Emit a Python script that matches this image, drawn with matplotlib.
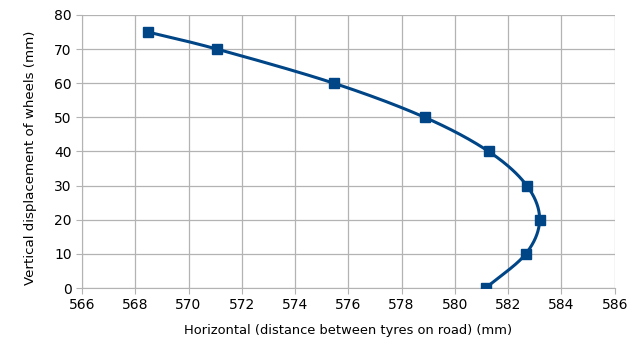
import numpy as np
import matplotlib
matplotlib.use("Agg")
import matplotlib.pyplot as plt

#-------------------------------------------------------------------------------
# values
horizontal = [568.48, 571.07, 575.46, 578.87, 581.27, 582.70, 583.18, 582.66, 581.16]
vertical = [75, 70, 60, 50, 40, 30, 20, 10, 0]

x_ticks = list(range(566, 587, 2))
y_ticks = list(range(0, 81, 10))

#-------------------------------------------------------------------------------

def catmull_rom(xs, ys, n=30):
    # smooth curve through the points, like the spreadsheet's smoothed line
    p = np.column_stack([xs, ys]).astype(float)
    p = np.vstack([2 * p[0] - p[1], p, 2 * p[-1] - p[-2]])
    out = []
    for i in range(1, len(p) - 2):
        p0, p1, p2, p3 = p[i - 1], p[i], p[i + 1], p[i + 2]
        for t in np.linspace(0, 1, n, endpoint=False):
            t2 = t * t
            t3 = t2 * t
            pt = 0.5 * ((2 * p1) + (-p0 + p2) * t
                        + (2 * p0 - 5 * p1 + 4 * p2 - p3) * t2
                        + (-p0 + 3 * p1 - 3 * p2 + p3) * t3)
            out.append(pt)
    out.append(p[-2])
    out = np.array(out)
    return out[:, 0], out[:, 1]

#-------------------------------------------------------------------------------

color = "#004586"

fig = plt.figure(figsize=(6.43, 3.62), dpi=100)
ax = fig.add_axes([0.1275, 0.2044, 0.8285, 0.7542])

sx, sy = catmull_rom(horizontal, vertical)
ax.plot(sx, sy, color=color, linewidth=2.2, zorder=3)
ax.plot(horizontal, vertical, linestyle="none", marker="s", markersize=7.5,
        color=color, zorder=4)

ax.set_xlim(566, 586)
ax.set_ylim(0, 80)
ax.set_xticks(x_ticks)
ax.set_yticks(y_ticks)
ax.grid(True, color="#b3b3b3", linewidth=0.9)
ax.set_axisbelow(True)

for s in ["top", "right"]:
    ax.spines[s].set_visible(False)
for s in ["left", "bottom"]:
    ax.spines[s].set_color("#b3b3b3")
ax.tick_params(colors="#b3b3b3", labelcolor="black", labelsize=10, length=4)

ax.set_xlabel("Horizontal (distance between tyres on road) (mm)", fontsize=9.4, labelpad=8)
ax.set_ylabel("Vertical displacement of wheels (mm)", fontsize=9.6)
ax.yaxis.set_label_coords(-0.084, 0.476)

fig.savefig("out.png", dpi=100)
